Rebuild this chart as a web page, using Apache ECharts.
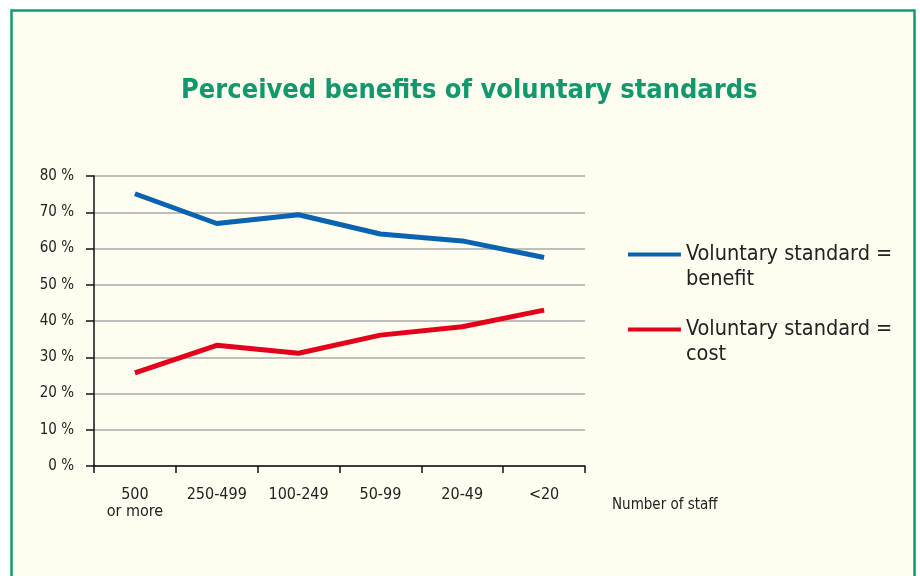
<!DOCTYPE html>
<html><head><meta charset="utf-8">
<script src="https://cdn.jsdelivr.net/npm/echarts@6/dist/echarts.min.js"></script>
<style>html,body{margin:0;padding:0;background:#fff}#c{width:920px;height:576px}</style>
</head><body><div id="c"></div>
<script>
var categories = ['500\nor more', '250-499', '100-249', '50-99', '20-49', '<20'];
var benefit = [75.1, 66.9, 69.3, 64.0, 62.1, 57.5];
var cost = [25.7, 33.3, 31.1, 36.1, 38.4, 43.0];
var seriesNames = ['Voluntary standard =\nbenefit', 'Voluntary standard =\ncost'];
var titleText = 'Perceived benefits of voluntary standards';
var axisName = 'Number of staff';

var FONT = '"DejaVu Sans Condensed", "Liberation Sans Narrow", sans-serif';
var chart = echarts.init(document.getElementById('c'));
chart.setOption({
  backgroundColor: '#ffffff',
  animation: false,
  graphic: [{
    type: 'rect', z: -10, silent: true,
    shape: {x: 11.5, y: 10.5, width: 903, height: 580},
    style: {fill: '#fffdf0', stroke: '#14996f', lineWidth: 2.5}
  }],
  title: {
    text: titleText, left: 176, top: 72,
    textStyle: {fontFamily: FONT, fontWeight: 'bold', fontSize: 27, color: '#11986c'}
  },
  legend: {
    orient: 'vertical', left: 623, top: 237,
    itemWidth: 53, itemHeight: 29, itemGap: 25,
    icon: 'path://M0,0h53v4h-53zM0,29h0.05v0.05h-0.05z',
    textStyle: {fontFamily: FONT, fontSize: 21.5, color: '#222', lineHeight: 25},
    data: seriesNames
  },
  grid: {left: 94, right: 335, top: 176, bottom: 110},
  xAxis: {
    type: 'category', data: categories, boundaryGap: true,
    axisLine: {lineStyle: {color: '#111', width: 1.5}},
    axisTick: {show: true, length: 7, lineStyle: {color: '#111', width: 1.5}},
    axisLabel: {fontFamily: FONT, fontSize: 16, color: '#222', margin: 20, lineHeight: 17},
    name: axisName, nameLocation: 'end', nameGap: 27,
    nameTextStyle: {fontFamily: FONT, fontSize: 15, color: '#222', verticalAlign: 'top', padding: [32, 0, 0, 0]}
  },
  yAxis: {
    type: 'value', min: 0, max: 80, interval: 10,
    axisLine: {show: true, lineStyle: {color: '#111', width: 1.5}},
    axisTick: {show: true, length: 8, lineStyle: {color: '#111', width: 1.5}},
    axisLabel: {fontFamily: FONT, fontSize: 15, color: '#222', margin: 20, formatter: '{value} %'},
    splitLine: {lineStyle: {color: '#a8a8a8', width: 1.5}}
  },
  series: [
    {name: seriesNames[0], type: 'line', data: benefit, symbol: 'none',
     lineStyle: {width: 5, color: '#0a63b1'}, itemStyle: {color: '#0a63b1'}},
    {name: seriesNames[1], type: 'line', data: cost, symbol: 'none',
     lineStyle: {width: 5, color: '#e2001a'}, itemStyle: {color: '#e2001a'}}
  ]
});
</script></body></html>
